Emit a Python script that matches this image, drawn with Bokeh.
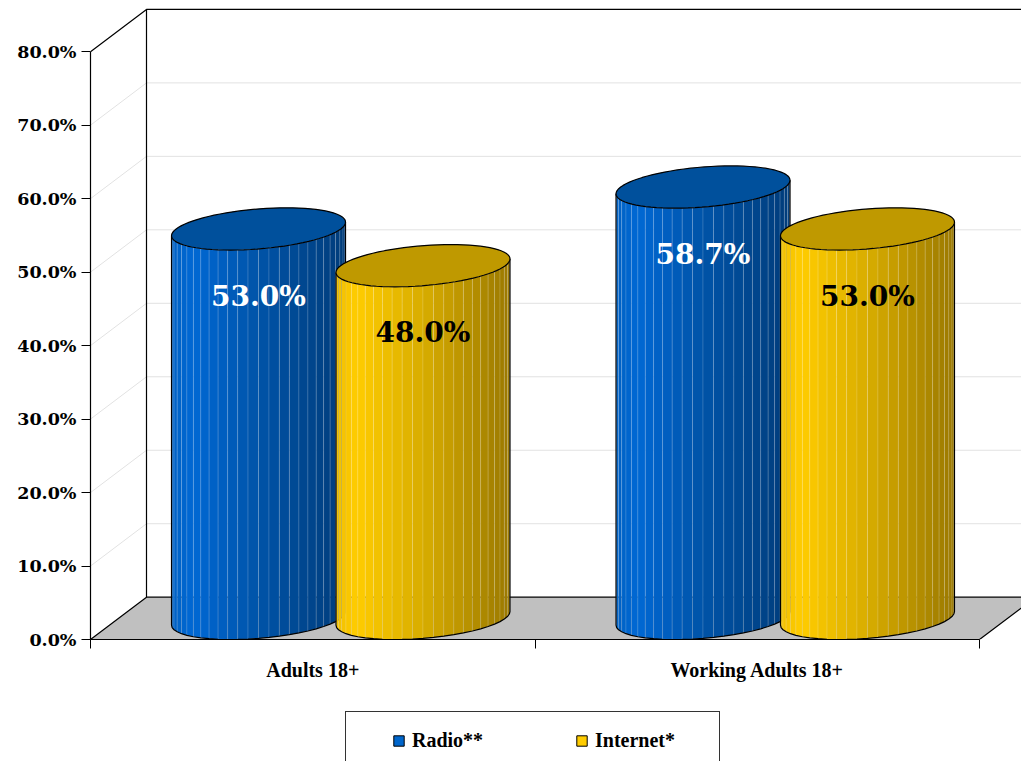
import math
from bokeh.plotting import figure
from bokeh.layouts import column
from bokeh.models import (ColumnDataSource, FixedTicker, PrintfTickFormatter,
                          Range1d, Legend, LegendItem)
from bokeh.core.properties import value
from bokeh.embed import file_html
from bokeh.resources import INLINE

# ---------------- data ----------------
categories = ["Adults 18+", "Working Adults 18+"]
series_names = ["Radio**", "Internet*"]
radio = [53.0, 58.7]
internet = [48.0, 53.0]
y_ticks = [0, 10, 20, 30, 40, 50, 60, 70, 80]
y_max_tick = 80

# ---------------- geometry / style ----------------
W, H1, H2 = 1021, 710, 51
FL, FB = 90, 71
PX_X = 444.5          # px per category unit
PX_Y = 7.3475         # px per percent
XMAX = (W - FL) / PX_X
YMAX = (H1 - FB) / PX_Y
DX = 56 / PX_X        # depth offset (x units)
DY = 42.3 / PX_Y      # depth offset (percent units)
OFF = 0.185           # series offset from category centre
HALF = 87 / PX_X      # projected half width of a cylinder
RX = math.sqrt(HALF ** 2 - (DX / 2) ** 2)
T0 = math.atan2(DX / 2, RX)
NSTRIP = 26
LABEL_DROP = 46 / PX_Y

styles = {
    "Radio**": dict(stops=[(0.0, "#0061C2"), (0.12, "#0068D4"), (0.5, "#0053A8"), (1.0, "#003C7A")],
                    top="#00509C", legend="#0066CC", text="white", off=-OFF),
    "Internet*": dict(stops=[(0.0, "#F0C000"), (0.12, "#FFCC00"), (0.5, "#D8AD00"), (1.0, "#9A7800")],
                      top="#BF9900", legend="#FFCC00", text="black", off=OFF),
}


def hex2rgb(h):
    h = h.lstrip("#")
    return tuple(int(h[i:i + 2], 16) for i in (0, 2, 4))


def grad(stops, f):
    for (f0, c0), (f1, c1) in zip(stops[:-1], stops[1:]):
        if f <= f1:
            a = (f - f0) / (f1 - f0) if f1 > f0 else 0
            r0, r1 = hex2rgb(c0), hex2rgb(c1)
            return "#%02x%02x%02x" % tuple(int(round(x + (y - x) * a)) for x, y in zip(r0, r1))
    return stops[-1][1]


def ell(xc, v, t):
    return (xc + DX / 2 + RX * math.cos(t) + (DX / 2) * math.sin(t),
            v + DY / 2 + (DY / 2) * math.sin(t))


p = figure(width=W, height=H1, x_range=Range1d(0, XMAX), y_range=Range1d(0, YMAX),
           output_backend="svg", toolbar_location=None,
           min_border_left=FL, min_border_right=0, min_border_top=0, min_border_bottom=FB)
p.grid.visible = False
p.outline_line_color = None
p.background_fill_color = "white"

# ---------------- walls & floor ----------------
grid_vals = [v for v in y_ticks if 0 < v < y_max_tick]
p.multi_line(xs=[[DX, XMAX + 1] for v in grid_vals], ys=[[v + DY, v + DY] for v in grid_vals],
             line_color="#E2E2E2", line_width=1)
p.multi_line(xs=[[0, DX] for v in grid_vals], ys=[[v, v + DY] for v in grid_vals],
             line_color="#E2E2E2", line_width=1)
p.patch(x=[0, len(categories), len(categories) + DX, DX], y=[0, 0, DY, DY],
        fill_color="#C0C0C0", line_color="black", line_width=1.2)
p.line(x=[DX, DX], y=[DY, y_max_tick + DY], line_color="black", line_width=1.2)
p.line(x=[0, DX, XMAX + 1], y=[y_max_tick, y_max_tick + DY, y_max_tick + DY],
       line_color="black", line_width=1.2)

# ---------------- cylinders ----------------
label_x, label_y, label_t, label_c = [], [], [], []
for name, vals in zip(series_names, [radio, internet]):
    st = styles[name]
    sx, sy, sc = [], [], []
    ox, oy = [], []
    tx, ty = [], []
    for i, v in enumerate(vals):
        xc = i + 0.5 + st["off"]
        ts = [math.pi + T0 + k * math.pi / NSTRIP for k in range(NSTRIP + 1)]
        xl = ell(xc, 0, ts[0])[0]
        xr = ell(xc, 0, ts[-1])[0]
        for k in range(NSTRIP):
            b0 = ell(xc, 0, ts[k]); b1 = ell(xc, 0, ts[k + 1])
            a0 = ell(xc, v, ts[k]); a1 = ell(xc, v, ts[k + 1])
            sx.append([b0[0], b1[0], a1[0], a0[0]])
            sy.append([b0[1], b1[1], a1[1], a0[1]])
            f = ((b0[0] + b1[0]) / 2 - xl) / (xr - xl)
            sc.append(grad(st["stops"], f))
        bot = [ell(xc, 0, t) for t in ts]
        px = [ell(xc, v, ts[0])[0]] + [q[0] for q in bot] + [ell(xc, v, ts[-1])[0]]
        py = [ell(xc, v, ts[0])[1]] + [q[1] for q in bot] + [ell(xc, v, ts[-1])[1]]
        ox.append(px); oy.append(py)
        top = [ell(xc, v, 2 * math.pi * k / 80) for k in range(80)]
        tx.append([q[0] for q in top]); ty.append([q[1] for q in top])
        label_x.append(xc + DX / 2)
        label_y.append(v - LABEL_DROP)
        label_t.append("%.1f%%" % v)
        label_c.append(st["text"])
    p.patches(xs=sx, ys=sy, fill_color=sc, line_color="white", line_alpha=0.18, line_width=0.7)
    p.multi_line(xs=ox, ys=oy, line_color="black", line_width=1.2)
    p.patches(xs=tx, ys=ty, fill_color=st["top"], line_color="black", line_width=1.2)

src = ColumnDataSource(dict(x=label_x, y=label_y, t=label_t, c=label_c))
p.text(x="x", y="y", text="t", text_color="c", source=src, text_align="center",
       text_baseline="middle", text_font=value("DejaVu Serif"), text_font_style="bold",
       text_font_size="28px")

# ---------------- axes ----------------
ya = p.yaxis[0]
ya.ticker = FixedTicker(ticks=y_ticks)
ya.formatter = PrintfTickFormatter(format="%.1f%%")
ya.bounds = (0, y_max_tick)
ya.axis_line_color = "black"
ya.axis_line_width = 1.2
ya.major_tick_line_color = "black"
ya.major_tick_out = 9
ya.major_tick_in = 0
ya.minor_tick_line_color = None
ya.major_label_standoff = 5
ya.major_label_text_font = "DejaVu Serif"
ya.major_label_text_font_style = "bold"
ya.major_label_text_font_size = "17.5px"
ya.major_label_text_color = "black"

xa = p.xaxis[0]
centers = [i + 0.5 for i in range(len(categories))]
xa.ticker = FixedTicker(ticks=centers, minor_ticks=list(range(len(categories) + 1)))
xa.major_label_overrides = {c: n for c, n in zip(centers, categories)}
xa.bounds = (0, len(categories))
xa.axis_line_color = "black"
xa.axis_line_width = 1.2
xa.major_tick_line_color = None
xa.major_tick_out = 0
xa.major_tick_in = 0
xa.minor_tick_line_color = "black"
xa.minor_tick_out = 9
xa.minor_tick_in = 0
xa.major_label_standoff = 10
xa.major_label_text_font = "Liberation Serif"
xa.major_label_text_font_style = "bold"
xa.major_label_text_font_size = "20px"
xa.major_label_text_color = "black"

# ---------------- legend strip ----------------
p2 = figure(width=W, height=H2, x_axis_type=None, y_axis_type=None,
            x_range=Range1d(0, 1), y_range=Range1d(0, 1),
            output_backend="svg", toolbar_location=None, min_border=0)
p2.outline_line_color = None
legend_items = []
for name in series_names:
    # swatch-only renderer: its single point lies outside the visible range
    r = p2.quad(left=[-3], right=[-2], top=[-2], bottom=[-3], fill_color=styles[name]["legend"],
                line_color="black", line_width=1)
    legend_items.append(LegendItem(label=name, renderers=[r]))

legend = Legend(items=legend_items, orientation="horizontal", location=(255, -9),
                title=" ", title_location="left", title_text_font_size="1px", title_standoff=28,
                glyph_width=13, glyph_height=13, padding=17, spacing=56, label_width=107,
                label_height=13, label_standoff=7, label_text_font="Liberation Serif",
                label_text_font_style="bold", label_text_font_size="20px",
                label_text_color="black",
                border_line_color="#333333", border_line_width=1, border_line_alpha=1,
                background_fill_color="white", background_fill_alpha=1, margin=0)
p2.add_layout(legend)

layout = column(p, p2, spacing=0)
open("out.html", "w").write(file_html(layout, INLINE))
